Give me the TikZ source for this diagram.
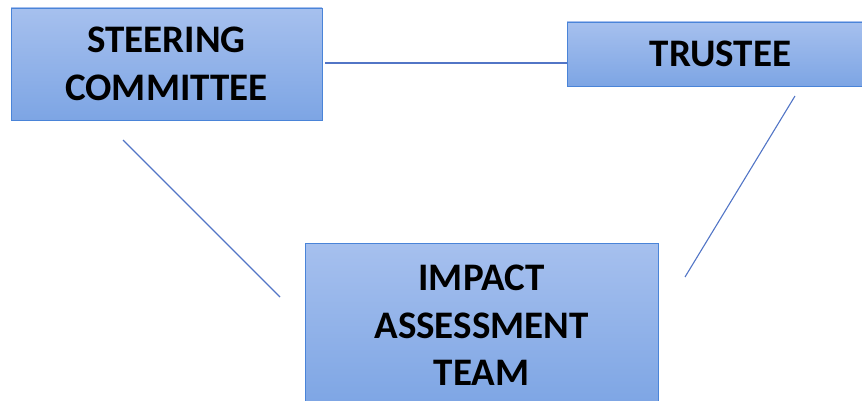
\documentclass[tikz,border=0pt]{standalone}
\usepackage{fontspec}
\setmainfont{Carlito}
\definecolor{boxtop}{HTML}{A6C0EE}
\definecolor{boxbot}{HTML}{7DA5E4}
\definecolor{boxedge}{HTML}{4A84D8}
\definecolor{linkcol}{HTML}{5275C6}
\begin{document}
\begin{tikzpicture}[x=1pt,y=-1pt,
  unitbox/.style={rectangle, draw=boxedge, line width=0.9pt,
    top color=boxtop, bottom color=boxbot, inner sep=0pt,
    align=center, text=black,
    font=\fontsize{39}{47.5}\selectfont\bfseries},
  link/.style={draw=linkcol, line width=1.1pt}]
  \useasboundingbox (0,0) rectangle (862,401);
  \clip (0,0) rectangle (862,401);

  % the three bodies
  \node[unitbox, minimum width=311pt, minimum height=112pt] (sc) at (166.5,64) {STEERING\\COMMITTEE};
  \node[unitbox, minimum width=307pt, minimum height=64pt] (tr) at (720.5,54) {TRUSTEE};
  \node[unitbox, minimum width=353pt, minimum height=165pt] (iat) at (481.5,325.5) {IMPACT\\ASSESSMENT\\TEAM};

  % free ends of the links
  \coordinate (sctr) at (325,63);
  \coordinate (trsc) at (567,63);
  \coordinate (sciat) at (123,140);
  \coordinate (iatsc) at (280,297);
  \coordinate (triat) at (795,96);
  \coordinate (iattr) at (685,277);

  \draw[link] (sctr) -- (trsc);
  \draw[link] (sciat) -- (iatsc);
  \draw[link] (triat) -- (iattr);
\end{tikzpicture}
\end{document}
